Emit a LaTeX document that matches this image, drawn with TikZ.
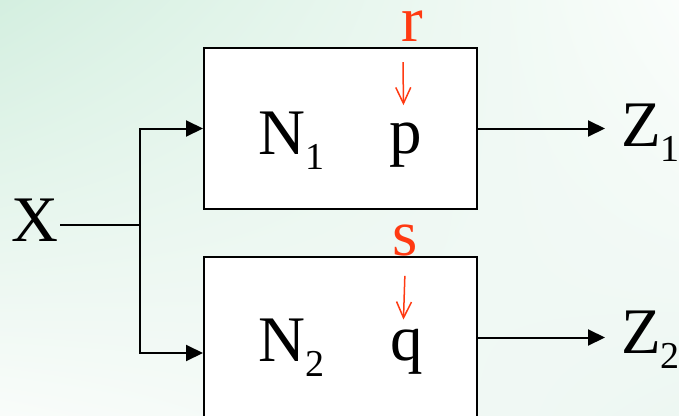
\documentclass[tikz,border=0pt]{standalone}
\usepackage{fontspec}
\setmainfont{Liberation Serif}
\usetikzlibrary{arrows.meta,shadings}
\definecolor{bgul}{HTML}{D4EFE0}
\definecolor{bgur}{HTML}{FAFDFB}
\definecolor{bgll}{HTML}{F9FCFA}
\definecolor{bglr}{HTML}{EDF7F2}
\definecolor{ctlred}{HTML}{FF3A12}
\newcommand{\bigtxt}{\fontsize{65}{65}\selectfont}
\newcommand{\subtxt}[1]{\raisebox{-15pt}{\fontsize{38}{38}\selectfont #1}}
\tikzset{
  blockbox/.style={draw=black, line width=2pt, fill=white, minimum width=273pt, minimum height=161pt, inner sep=0pt},
  lbl/.style={inner sep=0pt, anchor=base west, font=\bigtxt},
  ctl/.style={inner sep=0pt, anchor=base west, font=\bigtxt, text=ctlred},
  flow/.style={line width=2pt, -{Triangle[length=17pt,width=16pt]}},
  wire/.style={line width=2pt},
  ctlarrow/.style={ctlred, line width=1.5pt, -{Straight Barb[length=16pt,width=15pt]}}
}
\begin{document}
\begin{tikzpicture}[x=1pt,y=-1pt]
\useasboundingbox (0,0) rectangle (679,415);
\clip (0,0) rectangle (679,415);
\shade[upper left=bgul, upper right=bgur, lower left=bgll, lower right=bglr] (0,0) rectangle (679,415);
% blocks
\node[blockbox] (b1) at (340.5,128.5) {};
\node[blockbox] (b2) at (340.5,337.5) {};
% texts
\node[lbl] (x) at (11,241) {X};
\node[lbl] (n1) at (258,154) {N\subtxt{1}};
\node[lbl] (p) at (389,153) {p};
\node[ctl] (r) at (401,41) {r};
\node[lbl] (z1) at (621,146) {Z\subtxt{1}};
\node[lbl] (n2) at (258,361) {N\subtxt{2}};
\node[lbl] (q) at (390,360) {q};
\node[ctl] (s) at (392,255) {s};
\node[lbl] (z2) at (621,353) {Z\subtxt{2}};
% branch point
\coordinate (j) at (140,225);
% connectors
\draw[wire] ([xshift=2pt]x.east |- j) -- (j);
\draw[flow] (j) |- (b1.west);
\draw[flow] (j) |- ([yshift=-15.5pt]b2.west);
\draw[flow] (b1.east) -- ([xshift=-16pt]z1.west |- b1.east);
\draw[flow] (b2.east) -- ([xshift=-16pt]z2.west |- b2.east);
\draw[ctlarrow] ([xshift=-9pt,yshift=-21pt]r.south) -- ([xshift=-2pt,yshift=17pt]p.north);
\draw[ctlarrow] ([xshift=0pt,yshift=-20pt]s.south) -- ([xshift=-3pt,yshift=9pt]q.north);
\end{tikzpicture}
\end{document}
